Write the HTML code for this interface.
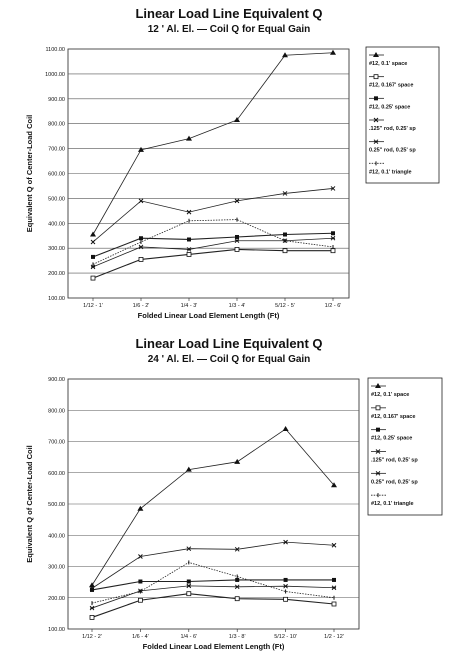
<!DOCTYPE html>
<html><head><meta charset="utf-8"><style>
body{margin:0;background:#fff;font-family:"Liberation Sans",sans-serif;}
svg{display:block}
</style></head><body>
<svg id="s" width="459" height="660" viewBox="0 0 459 660"></svg>
<script>
const catsTop=["1/12 - 1'","1/6 - 2'","1/4 - 3'","1/3 - 4'","5/12 - 5'","1/2 - 6'"];
const catsBot=["1/12 - 2'","1/6 - 4'","1/4 - 6'","1/3 - 8'","5/12 - 10'","1/2 - 12'"];
const seriesNames=["#12, 0.1' space","#12, 0.167' space","#12, 0.25' space",".125\" rod, 0.25' sp","0.25\" rod, 0.25' sp","#12, 0.1' triangle"];
const top01=[355,695,740,815,1075,1085];
const top0167=[180,255,275,295,290,290];
const top025=[265,340,335,345,355,360];
const topRod125=[325,490,445,490,520,540];
const topRod25=[225,305,295,330,330,340];
const topTri=[235,325,410,415,330,305];
const bot01=[240,485,610,635,740,560];
const bot0167=[137,192,213,197,195,180];
const bot025=[225,252,252,257,257,257];
const botRod125=[230,332,357,355,378,368];
const botRod25=[167,222,238,235,237,232];
const botTri=[183,220,313,268,220,200];
const ticksTop=[100,200,300,400,500,600,700,800,900,1000,1100];
const ticksBot=[100,200,300,400,500,600,700,800,900];

const NS="http://www.w3.org/2000/svg";
const S=document.getElementById('s');
function mk(t,a,p){const e=document.createElementNS(NS,t);for(const k in a)e.setAttribute(k,a[k]);(p||S).appendChild(e);return e;}
function txt(x,y,s,size,w,anchor,p){const e=mk('text',{x:x,y:y,'font-size':size,'font-weight':w,'text-anchor':anchor,fill:'#111'},p);e.textContent=s;return e;}
function marker(g,i,x,y){
 if(i==0)mk('path',{d:`M${x-3} ${y+2}L${x} ${y-3}L${x+3} ${y+2}Z`,fill:'#111'},g);
 else if(i==1)mk('rect',{x:x-2,y:y-2,width:4,height:4,fill:'#fff',stroke:'#111','stroke-width':0.8},g);
 else if(i==2)mk('rect',{x:x-2,y:y-2,width:4,height:4,fill:'#111'},g);
 else if(i==3)mk('path',{d:`M${x-2} ${y-2}L${x+2} ${y+2}M${x-2} ${y+2}L${x+2} ${y-2}`,stroke:'#111','stroke-width':1},g);
 else if(i==4)mk('path',{d:`M${x-2} ${y-2}L${x+2} ${y+2}M${x-2} ${y+2}L${x+2} ${y-2}M${x-2} ${y}H${x+2}`,stroke:'#111','stroke-width':0.9},g);
 else mk('path',{d:`M${x} ${y-2}V${y+2}`,stroke:'#111','stroke-width':1},g);
}
function chart(o){
 const g=mk('g',{});
 
 
 const t1=txt(229,o.ty,'Linear Load Line Equivalent Q',13,'bold','middle',g);
 
 const t2=txt(229,o.ty+14,o.sub,10,'bold','middle',g);
 
 const ymin=o.ticks[0],ymax=o.ticks[o.ticks.length-1];
 const Y=v=>o.b-(v-ymin)/(ymax-ymin)*(o.b-o.t);
 const X=i=>o.x0+i*(o.x1-o.x0)/5;
 mk('rect',{x:o.l,y:o.t,width:o.r-o.l,height:o.b-o.t,fill:'none',stroke:'#222','stroke-width':0.8},g);
 o.ticks.forEach(v=>{
  mk('line',{x1:o.l,x2:o.r,y1:Y(v),y2:Y(v),stroke:'#555','stroke-width':0.6},g);
  const tl=txt(o.l-3,Y(v)+2,v.toFixed(2),5.5,'normal','end',g);
  
 });
 o.cats.forEach((c,i)=>{
  mk('line',{x1:X(i),x2:X(i),y1:o.b,y2:o.b+3,stroke:'#222','stroke-width':0.6},g);
  const cl=txt(X(i),o.b+9,c,5.5,'normal','middle',g);
  
 });
 const xt=txt((o.l+o.r)/2,o.b+20,'Folded Linear Load Element Length (Ft)',7.5,'bold','middle',g);
 
 const yt=txt(0,0,'Equivalent Q of Center-Load Coil',7.5,'bold','middle',g);
 yt.setAttribute('transform',`translate(32,${(o.t+o.b)/2}) rotate(-90)`);
 
 o.series.forEach((arr,si)=>{
  const sg=mk('g',{},g);
  
  
  const d=arr.map((v,i)=>(i?'L':'M')+X(i)+' '+Y(v)).join('');
  mk('path',{d:d,fill:'none',stroke:'#222','stroke-width':si==2||si==1?1.1:0.8,'stroke-dasharray':si==5?'1.5,1.2':'none'},sg);
  arr.forEach((v,i)=>marker(sg,si,X(i),Y(v)));
 });
 const lg=mk('g',{},g);
 
 
 mk('rect',{x:o.lx,y:o.ly,width:o.lw,height:o.lh,fill:'#fff',stroke:'#222','stroke-width':0.8},lg);
 seriesNames.forEach((n,i)=>{
  const y=o.ly+8+i*(o.lh-6)/6;
  mk('line',{x1:o.lx+3,x2:o.lx+18,y1:y,y2:y,stroke:'#222','stroke-width':0.8,'stroke-dasharray':i==5?'1.5,1.2':'none'},lg);
  marker(lg,i,o.lx+10,y);
  const e=txt(o.lx+3,y+10,n,5.5,'bold','start',lg);
  
 });
}
chart({name:'chart-12ft',ty:18,sub:"12 ' Al. El. \u2014 Coil Q for Equal Gain",l:68,r:349,t:49,b:298,x0:93,x1:333,ticks:ticksTop,cats:catsTop,
 series:[top01,top0167,top025,topRod125,topRod25,topTri],lx:366,ly:47,lw:73,lh:136});
chart({name:'chart-24ft',ty:348,sub:"24 ' Al. El. \u2014 Coil Q for Equal Gain",l:68,r:359,t:379,b:629,x0:92,x1:334,ticks:ticksBot,cats:catsBot,
 series:[bot01,bot0167,bot025,botRod125,botRod25,botTri],lx:368,ly:378,lw:74,lh:137});
</script>
</body></html>
